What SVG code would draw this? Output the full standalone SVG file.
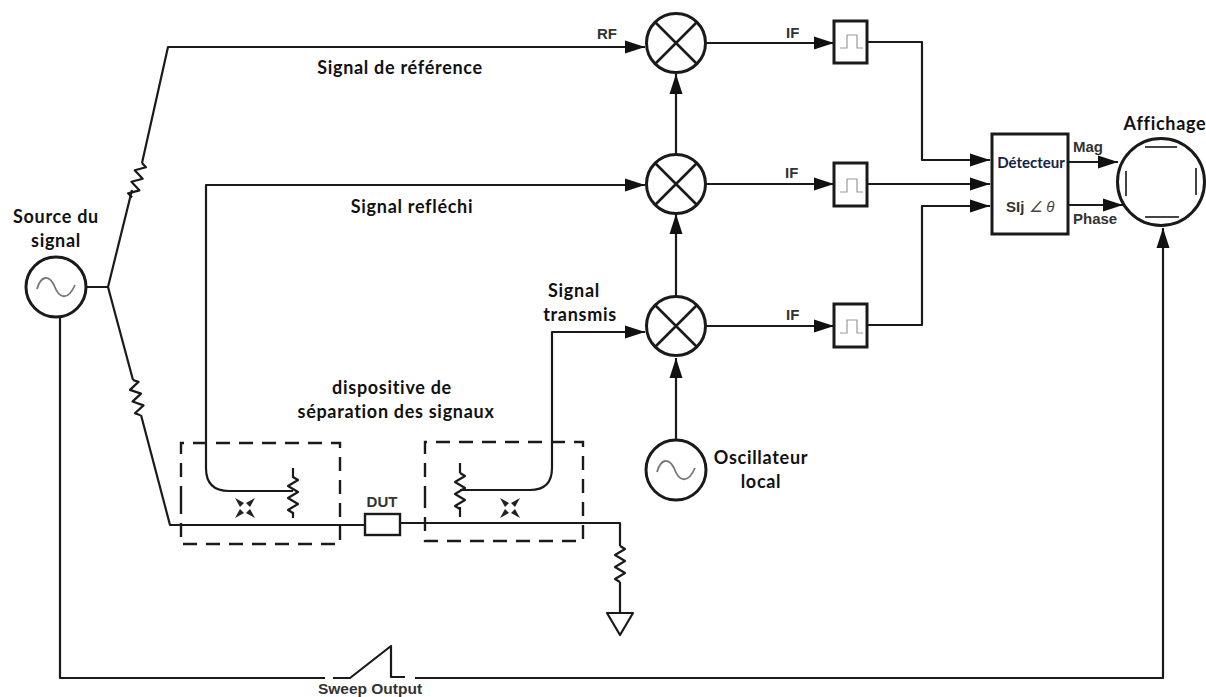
<svg xmlns="http://www.w3.org/2000/svg" width="1206" height="697" viewBox="0 0 1206 697">
<style>
.l{fill:none;stroke:#1a1a1a;stroke-width:2.200;stroke-linejoin:round}
.n{fill:#fff;stroke:#1a1a1a;stroke-width:3}
.t{fill:none;stroke:#444;stroke-width:2}
.d{fill:none;stroke:#1a1a1a;stroke-width:2.400;stroke-dasharray:14 9}
.g{fill:none;stroke:#999;stroke-width:1.200}
.a{font-family:"Liberation Sans",Arial,sans-serif;font-weight:700;fill:#333;font-size:15px}
.b{font-family:Lato,"Open Sans",sans-serif;font-weight:700;fill:#111;font-size:18px;letter-spacing:.7px;text-anchor:middle}
</style>
<defs>
<marker id="h" markerUnits="userSpaceOnUse" markerWidth="22" markerHeight="16" refX="20" refY="8" orient="auto"><path d="M0 1.500L20 8L0 14.500Z" fill="#111"/></marker>
<path id="w" d="M0 0l5 3l-10 6l10 6l-10 6l10 6l-10 6l5 3"/>
<g id="x"><circle r="29.500" class="n"/><path class="l" d="M-21 -21L21 21M21 -21L-21 21" style="stroke-width:2.600"/></g>
<path id="s" d="M-19 2C-15 -12 -7 -12 -2 -2C3 12 12 14 19 -2" style="fill:none;stroke:#777;stroke-width:1.800"/>
<g id="c" fill="#222"><path d="M-10 -10L-1 -5L-3 -3L-5 -1Z"/><path d="M10 -10L1 -5L3 -3L5 -1Z"/><path d="M-10 10L-1 5L-3 3L-5 1Z"/><path d="M10 10L1 5L3 3L5 1Z"/></g>
</defs>
<g id="connectors">
<path class="l" d="M86 287H108L132 190M142 163L168 47H645" marker-end="url(#h)"/>
<use href="#w" class="l" transform="translate(142 163) rotate(16)"/>
<path class="l" d="M108 287L133 380"/>
<use href="#w" class="l" transform="translate(133 380) rotate(-12)"/>
<path class="l" d="M141 415L170 525H365"/>
<path class="l" d="M400 523H620V546"/>
<use href="#w" class="l" transform="translate(620 546)"/>
<path class="l" d="M620 582V613"/>
<path class="l" d="M607 613H633L620 635Z"/>
<path class="l" d="M293 491H229Q206 491 206 468V185H645" marker-end="url(#h)"/>
<path class="l" d="M293 468V478"/>
<use href="#w" class="l" transform="translate(293 477)"/>
<path class="l" d="M293 512V518"/>
<path class="l" d="M460 463V473"/>
<use href="#w" class="l" transform="translate(460 473)"/>
<path class="l" d="M460 507V517"/>
<path class="l" d="M460 490H530Q552 490 552 468V332H645" marker-end="url(#h)"/>
<path class="d" d="M181 500V443H340V544H181V500"/>
<path class="d" d="M425 500V442H583V541H425V500"/>
<use href="#c" transform="translate(245 508)"/>
<use href="#c" transform="translate(510 508)"/>
<path class="l" d="M676 154V74" marker-end="url(#h)"/>
<path class="l" d="M676 296V214" marker-end="url(#h)"/>
<path class="l" d="M676 440V358" marker-end="url(#h)"/>
<path class="l" d="M706 43H834" marker-end="url(#h)"/>
<path class="l" d="M706 184H834" marker-end="url(#h)"/>
<path class="l" d="M706 326H834" marker-end="url(#h)"/>
<path class="l" d="M868 42H922V160H990" marker-end="url(#h)"/>
<path class="l" d="M868 184H990" marker-end="url(#h)"/>
<path class="l" d="M868 325H922V206H990" marker-end="url(#h)"/>
<path class="l" d="M1068 162H1118" marker-end="url(#h)"/>
<path class="l" d="M1068 205H1123" marker-end="url(#h)"/>
<path class="l" d="M60 317V678H325M333 678H350L391 646V677H405M415 678H1163V228" marker-end="url(#h)"/>
</g>
<g id="source"><circle cx="56" cy="287" r="30" class="n"/><use href="#s" transform="translate(56 287)"/><text class="b" x="56" y="223">Source du</text><text class="b" x="56" y="247">signal</text></g>
<g id="mixer-ref"><use href="#x" transform="translate(676 43)"/></g>
<g id="mixer-refl"><use href="#x" transform="translate(676 184)"/></g>
<g id="mixer-trans"><use href="#x" transform="translate(676 326)"/></g>
<g id="oscillator"><circle cx="676" cy="470" r="30" class="n"/><use href="#s" transform="translate(676 470)"/><text class="b" x="761" y="464">Oscillateur</text><text class="b" x="761" y="488">local</text></g>
<g id="filter-1"><rect x="834" y="21" width="33" height="42" class="n"/><path class="g" d="M840 48H847V35H857V48H863"/></g>
<g id="filter-2"><rect x="834" y="163" width="33" height="43" class="n"/><path class="g" d="M840 192H847V179H857V192H863"/></g>
<g id="filter-3"><rect x="834" y="304" width="33" height="43" class="n"/><path class="g" d="M840 333H847V320H857V333H863"/></g>
<g id="detector"><rect x="992" y="134" width="76" height="100" class="n"/><text x="1031" y="168" text-anchor="middle" style="font-family:Lato,'Open Sans',sans-serif;font-size:15px;font-weight:700;fill:#124">Détecteur</text><text class="a" x="1006" y="212">SIj</text><text x="1029" y="212" style="font-family:'Liberation Sans',sans-serif;font-size:15px;font-style:italic;fill:#444">∠ θ</text></g>
<g id="display"><circle cx="1161" cy="182" r="43.500" class="n"/><path class="t" d="M1145 147H1177M1145 217H1179M1126 171V196M1196 168V195"/><text class="b" x="1165" y="130">Affichage</text></g>
<g id="dut"><rect x="365" y="514" width="35" height="21" class="n" style="stroke-width:2.400"/><text class="a" x="382" y="507" text-anchor="middle">DUT</text></g>
<g id="labels">
<text class="a" x="597" y="39">RF</text>
<text class="a" x="786" y="38">IF</text>
<text class="a" x="785" y="178">IF</text>
<text class="a" x="786" y="320">IF</text>
<text class="a" x="1073" y="152">Mag</text>
<text class="a" x="1073" y="224">Phase</text>
<text class="a" x="370" y="694" text-anchor="middle" style="font-size:15.500px">Sweep Output</text>
<text class="b" x="400" y="74">Signal de référence</text>
<text class="b" x="412" y="213">Signal refléchi</text>
<text class="b" x="574" y="297">Signal</text>
<text class="b" x="580" y="321">transmis</text>
<text class="b" x="392" y="394">dispositive de</text>
<text class="b" x="396" y="418">séparation des signaux</text>
</g>
</svg>
